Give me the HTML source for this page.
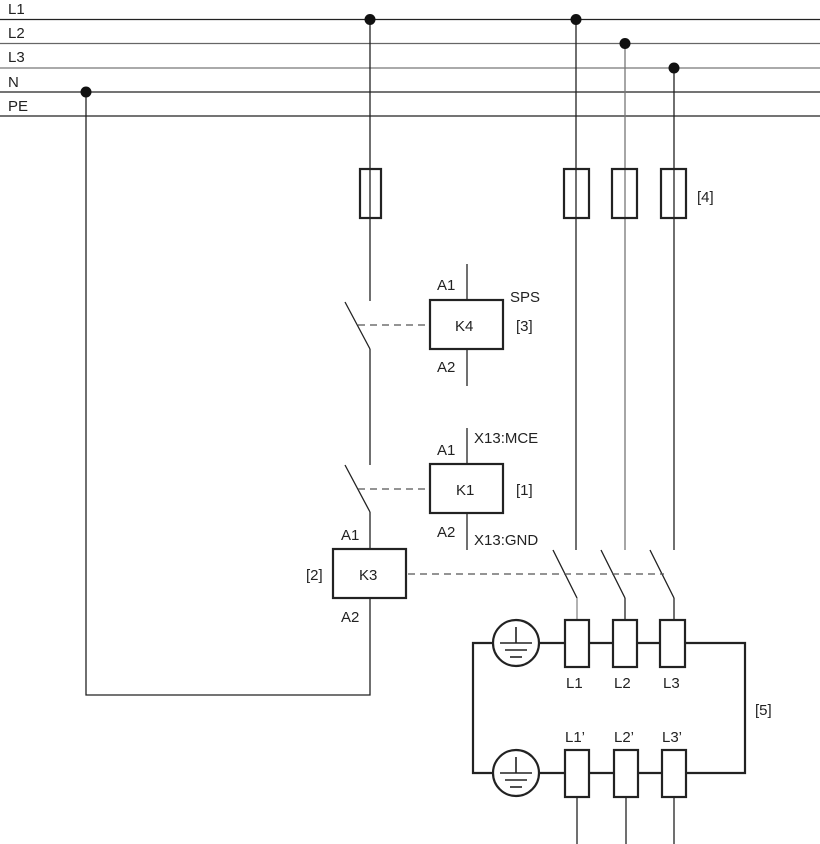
<!DOCTYPE html>
<html><head><meta charset="utf-8"><style>body{margin:0;background:#fff}svg{display:block}text{font-family:"Liberation Sans",sans-serif;font-size:15px;fill:#222}</style></head><body>
<svg width="820" height="844" viewBox="0 0 820 844">
<g stroke="#222" stroke-width="1.3" fill="none">
<line x1="0" y1="19.5" x2="820" y2="19.5"/>
<line x1="0" y1="43.5" x2="820" y2="43.5" stroke="#666"/>
<line x1="0" y1="68" x2="820" y2="68" stroke="#777"/>
<line x1="0" y1="92" x2="820" y2="92"/>
<line x1="0" y1="116" x2="820" y2="116"/>
<polyline points="370,19 370,301"/>
<line x1="345" y1="302" x2="370" y2="349"/>
<polyline points="370,349 370,465"/>
<line x1="345" y1="465" x2="370" y2="512"/>
<polyline points="370,512 370,549"/>
<polyline points="370,598 370,695 86,695 86,92"/>
<line x1="467" y1="264" x2="467" y2="386"/>
<line x1="467" y1="428" x2="467" y2="550"/>
<line x1="576" y1="19" x2="576" y2="550"/>
<line x1="625" y1="43" x2="625" y2="550" stroke="#777"/>
<line x1="674" y1="68" x2="674" y2="550"/>
<line x1="553" y1="550" x2="577" y2="598"/><line x1="577" y1="598" x2="577" y2="620" stroke="#888"/>
<line x1="601" y1="550" x2="625" y2="598"/><line x1="625" y1="598" x2="625" y2="620"/>
<line x1="650" y1="550" x2="674" y2="598"/><line x1="674" y1="598" x2="674" y2="620"/>
<line x1="577" y1="797" x2="577" y2="844"/>
<line x1="626" y1="797" x2="626" y2="844"/>
<line x1="674" y1="797" x2="674" y2="844"/>
<g stroke-dasharray="7,5" stroke="#555">
<line x1="358" y1="325" x2="430" y2="325"/>
<line x1="358" y1="489" x2="430" y2="489"/>
<line x1="408" y1="574" x2="664" y2="574"/>
</g>
</g>
<g stroke="#222" stroke-width="2.2" fill="none">
<rect x="360" y="169" width="21" height="49"/>
<rect x="564" y="169" width="25" height="49"/>
<rect x="612" y="169" width="25" height="49"/>
<rect x="661" y="169" width="25" height="49"/>
</g>
<g stroke="#222" stroke-width="2.2" fill="#fff">
<rect x="430" y="300" width="73" height="49"/>
<rect x="430" y="464" width="73" height="49"/>
<rect x="333" y="549" width="73" height="49"/>
<polyline points="539,643 565,643" fill="none"/>
<polyline points="493,643 473,643 473,773 493,773" fill="none"/>
<polyline points="539,773 565,773" fill="none"/>
<polyline points="685,643 745,643 745,773 686,773" fill="none"/>
<line x1="589" y1="643" x2="613" y2="643"/><line x1="637" y1="643" x2="660" y2="643"/>
<line x1="589" y1="773" x2="614" y2="773"/><line x1="638" y1="773" x2="662" y2="773"/>
<rect x="565" y="620" width="24" height="47"/>
<rect x="613" y="620" width="24" height="47"/>
<rect x="660" y="620" width="25" height="47"/>
<rect x="565" y="750" width="24" height="47"/>
<rect x="614" y="750" width="24" height="47"/>
<rect x="662" y="750" width="24" height="47"/>
<circle cx="516" cy="643" r="23"/>
<circle cx="516" cy="773" r="23"/>
</g>
<g stroke="#222" stroke-width="1.6">
<line x1="516" y1="627" x2="516" y2="643"/><line x1="500" y1="643" x2="532" y2="643"/><line x1="505" y1="650" x2="527" y2="650"/><line x1="510" y1="657" x2="522" y2="657"/>
<line x1="516" y1="757" x2="516" y2="773"/><line x1="500" y1="773" x2="532" y2="773"/><line x1="505" y1="780" x2="527" y2="780"/><line x1="510" y1="787" x2="522" y2="787"/>
</g>
<g fill="#111">
<circle cx="370" cy="19.5" r="5.5"/><circle cx="576" cy="19.5" r="5.5"/>
<circle cx="625" cy="43.5" r="5.5"/><circle cx="674" cy="68" r="5.5"/>
<circle cx="86" cy="92" r="5.5"/>
</g>
<text x="8" y="14">L1</text><text x="8" y="38">L2</text><text x="8" y="62">L3</text><text x="8" y="87">N</text><text x="8" y="111">PE</text>
<text x="697" y="202">[4]</text>
<text x="437" y="290">A1</text><text x="510" y="302">SPS</text><text x="455" y="331">K4</text><text x="516" y="331">[3]</text><text x="437" y="372">A2</text>
<text x="474" y="443">X13:MCE</text><text x="437" y="455">A1</text><text x="456" y="495">K1</text><text x="516" y="495">[1]</text><text x="437" y="537">A2</text><text x="474" y="545">X13:GND</text>
<text x="341" y="540">A1</text><text x="306" y="580">[2]</text><text x="359" y="580">K3</text><text x="341" y="622">A2</text>
<text x="566" y="688">L1</text><text x="614" y="688">L2</text><text x="663" y="688">L3</text>
<text x="565" y="742">L1’</text><text x="614" y="742">L2’</text><text x="662" y="742">L3’</text>
<text x="755" y="715">[5]</text>
</svg>
</body></html>
